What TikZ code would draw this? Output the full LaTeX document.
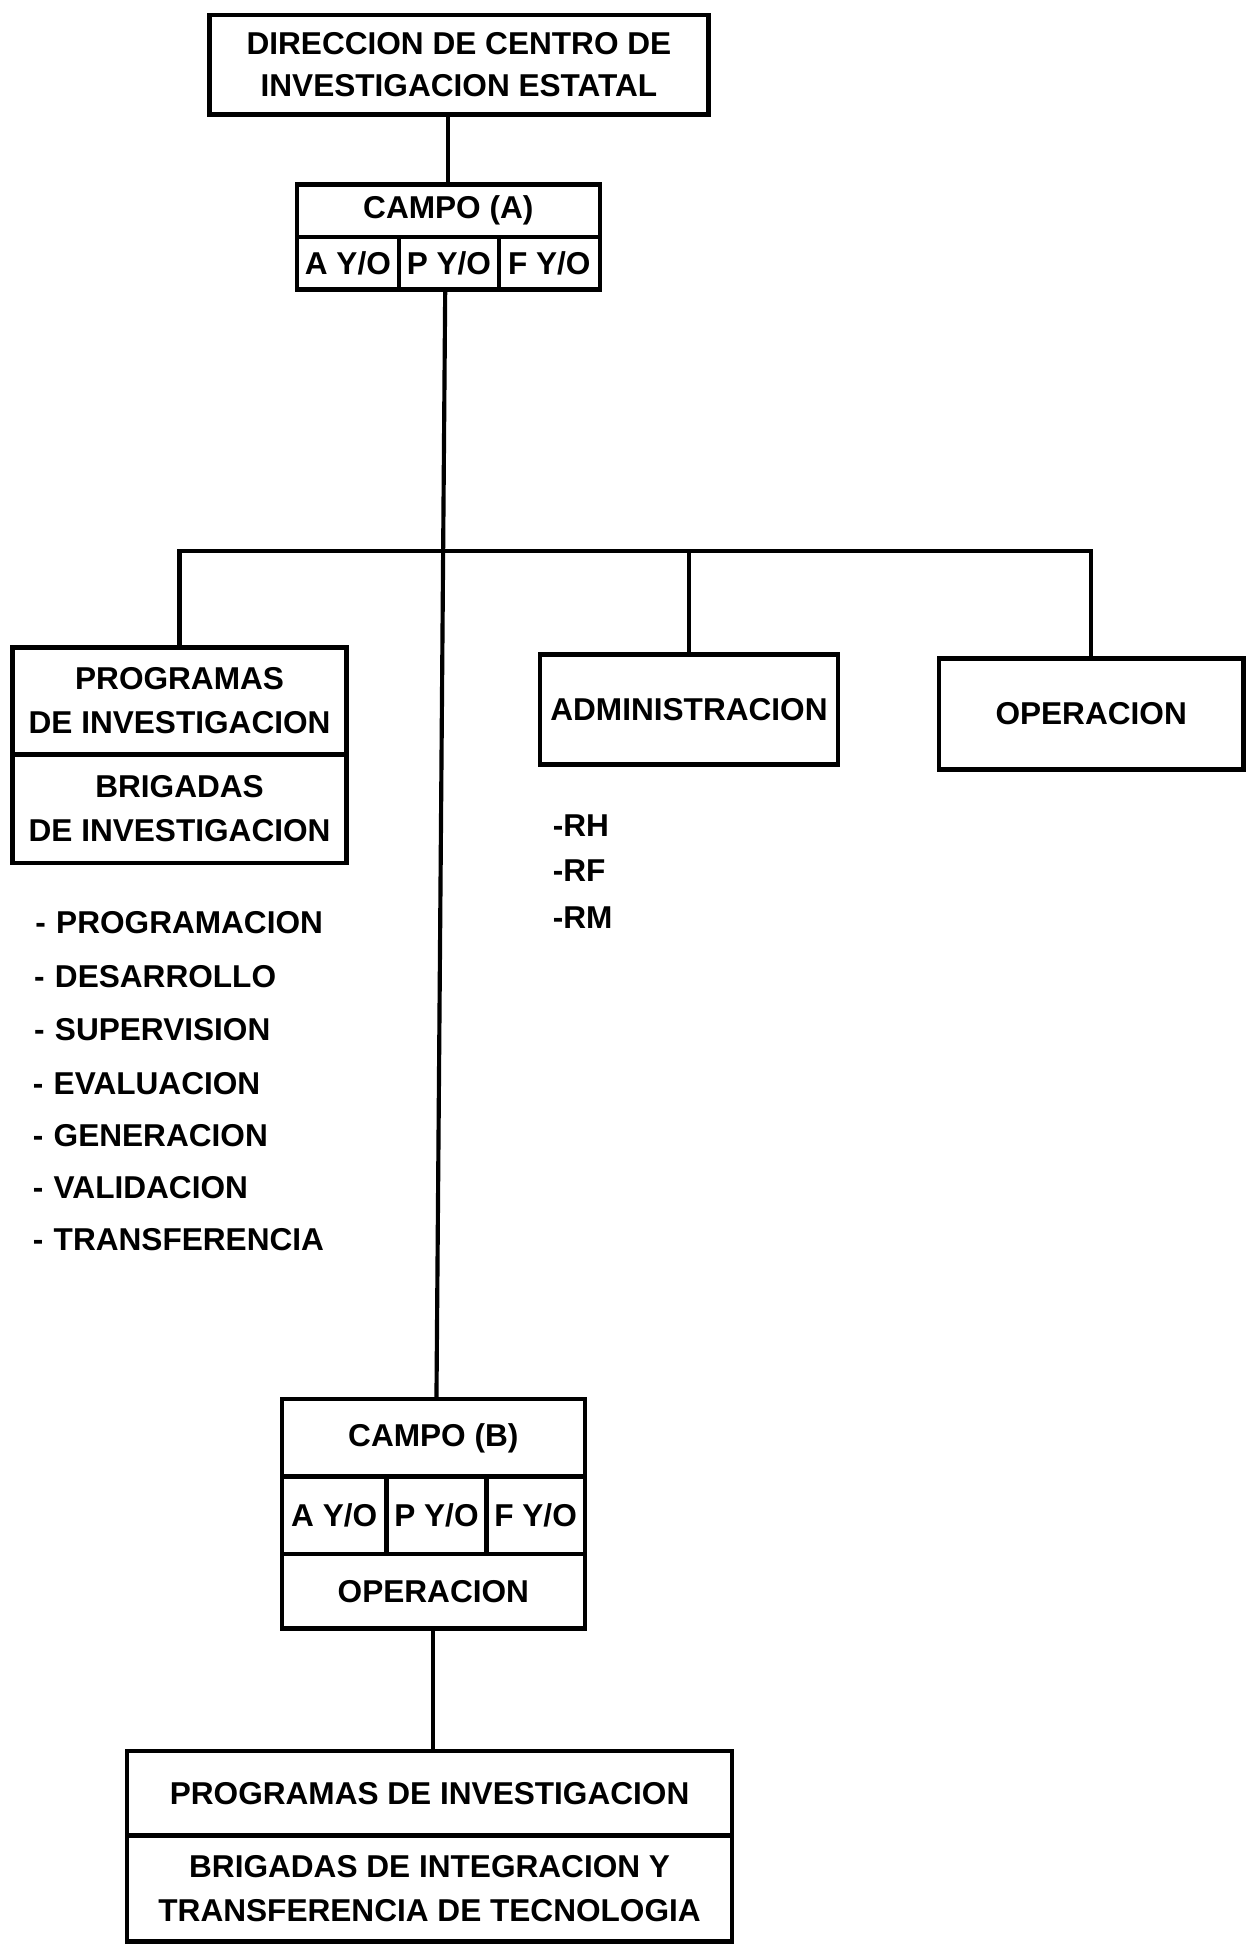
\documentclass[tikz,border=0pt]{standalone}
\usepackage{fontspec}
\setmainfont{Liberation Sans}
\usetikzlibrary{calc}
\begin{document}
\begin{tikzpicture}[x=0.6pt,y=-0.6pt,
  txt/.style={font=\bfseries\fontsize{15.2}{21}\selectfont},
  box/.style={txt, draw, line width=2.2pt, inner sep=0pt, align=center},
  lbl/.style={txt, inner sep=0pt, anchor=west},
  conn/.style={line width=2pt}]
\useasboundingbox (0,0) rectangle (1000,1560.5);

% top
\node[box, minimum width=240pt, minimum height=48pt] (dir) at (368,52)
  {DIRECCION DE CENTRO DE\\[-0.8pt]INVESTIGACION ESTATAL};

% campo A
\node[box, minimum width=145.8pt, minimum height=25.2pt] (caT) at (359.5,169) {CAMPO (A)};
\node[box, minimum width=49.2pt, minimum height=25.2pt] (caA) at (279,211) {A Y/O};
\node[box, minimum width=48pt, minimum height=25.2pt] (caP) at (360,211) {P Y/O};
\node[box, minimum width=48.6pt, minimum height=25.2pt] (caF) at (440.5,211) {F Y/O};

% second level
\node[box, minimum width=160.8pt, minimum height=51.6pt] (progA) at (144,562)
  {PROGRAMAS\\DE INVESTIGACION};
\node[box, minimum width=160.8pt, minimum height=52.2pt] (progB) at (144,648.5)
  {BRIGADAS\\DE INVESTIGACION};
\node[box, minimum width=143.4pt, minimum height=52.8pt] (adm) at (552.5,569) {ADMINISTRACION};
\node[box, minimum width=146.4pt, minimum height=53.4pt] (opr) at (875,572.5) {OPERACION};

% lists
\node[lbl] (rh) at (443,662) {-RH};
\node[lbl] (rf) at (443,698) {-RF};
\node[lbl] (rm) at (443,736) {-RM};

\node[lbl] (l1) at (28,740) {-\hspace{5pt}PROGRAMACION};
\node[lbl] (l2) at (27,783) {-\hspace{5pt}DESARROLLO};
\node[lbl] (l3) at (27,826) {-\hspace{5pt}SUPERVISION};
\node[lbl] (l4) at (26,869) {-\hspace{5pt}EVALUACION};
\node[lbl] (l5) at (26,911) {-\hspace{5pt}GENERACION};
\node[lbl] (l6) at (26,952) {-\hspace{5pt}VALIDACION};
\node[lbl] (l7) at (26,994) {-\hspace{5pt}TRANSFERENCIA};

% campo B
\node[box, minimum width=145.8pt, minimum height=37.2pt] (cbT) at (347.5,1153) {CAMPO (B)};
\node[box, minimum width=50.4pt, minimum height=37.2pt] (cbA) at (268,1215) {A Y/O};
\node[box, minimum width=48pt, minimum height=37.2pt] (cbP) at (350,1215) {P Y/O};
\node[box, minimum width=47.4pt, minimum height=37.2pt] (cbF) at (429.5,1215) {F Y/O};
\node[box, minimum width=145.8pt, minimum height=36pt] (cbO) at (347.5,1276) {OPERACION};

% bottom
\node[box, minimum width=291pt, minimum height=40.8pt] (botA) at (344.5,1438) {PROGRAMAS DE INVESTIGACION};
\node[box, minimum width=291pt, minimum height=51pt] (botB) at (344.5,1514.5)
  {BRIGADAS DE INTEGRACION Y\\TRANSFERENCIA DE TECNOLOGIA};

% connectors
\coordinate (bar) at (500,442);
\draw[conn] (caT.north |- dir.south) -- (caT.north);
\draw[conn] ($(caP.south)+(-3,0)$) -- ($(cbT.north)+(2.5,0)$);
\draw[conn] (progA.north) -- (progA.north |- bar) -- (opr.north |- bar) -- (opr.north);
\draw[conn] (adm.north |- bar) -- (adm.north);
\draw[conn] (cbO.south) -- (cbO.south |- botA.north);
\end{tikzpicture}
\end{document}
